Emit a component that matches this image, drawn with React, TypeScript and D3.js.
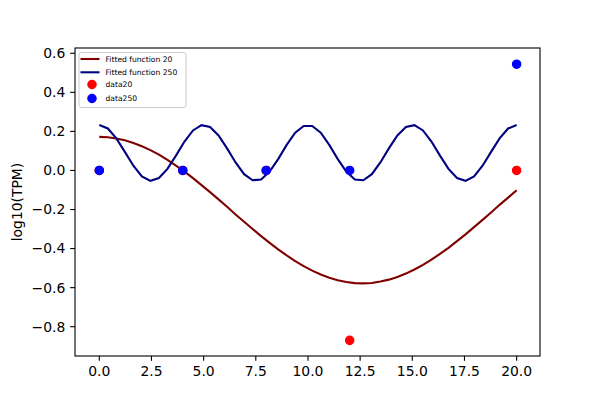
import { useEffect } from "react";
import * as d3 from "d3";

// sample positions of both fitted curves (linspace 0..20, 50 points)
const xs = d3.range(50).map((i) => (i * 20) / 49);

const fit20 = [
  0.172, 0.17, 0.164, 0.155, 0.141, 0.124, 0.104, 0.081, 0.054, 0.025,
  -0.006, -0.039, -0.075, -0.111, -0.148, -0.186, -0.225, -0.263, -0.3, -0.336,
  -0.371, -0.404, -0.435, -0.464, -0.49, -0.513, -0.533, -0.549, -0.562, -0.571,
  -0.577, -0.578, -0.576, -0.569, -0.559, -0.545, -0.528, -0.507, -0.483, -0.457,
  -0.427, -0.396, -0.362, -0.327, -0.29, -0.253, -0.215, -0.176, -0.139, -0.101,
];

const fit250 = [
  0.233, 0.215, 0.164, 0.095, 0.024, -0.03, -0.053, -0.039, 0.008, 0.076,
  0.148, 0.205, 0.232, 0.223, 0.179, 0.113, 0.041, -0.019, -0.05, -0.046,
  -0.006, 0.058, 0.131, 0.193, 0.228, 0.228, 0.193, 0.131, 0.058, -0.006,
  -0.046, -0.05, -0.019, 0.041, 0.113, 0.179, 0.223, 0.232, 0.205, 0.148,
  0.076, 0.008, -0.039, -0.053, -0.03, 0.024, 0.095, 0.164, 0.215, 0.233,
];

const dataX = [0, 4, 8, 12, 20];
const data20 = [0, 0, 0, -0.87, 0];
const data250 = [0, 0, 0, 0, 0.544];

const xTicks = [0, 2.5, 5, 7.5, 10, 12.5, 15, 17.5, 20];
const yTicks = [-0.8, -0.6, -0.4, -0.2, 0, 0.2, 0.4, 0.6];

const W = 600;
const H = 400;
const left = 75;
const right = 540;
const top = 48;
const bottom = 356;

const fmt = (v: number) => d3.format(".1f")(v).replace("-", "\u2212");

export default function App() {
  useEffect(() => {
    document.body.style.margin = "0";
  }, []);

  const x = d3.scaleLinear().domain([-1.165, 21.12]).range([left, right]);
  const y = d3.scaleLinear().domain([-0.95, 0.627]).range([bottom, top]);

  const line = d3
    .line<number>()
    .x((_, i) => x(xs[i]))
    .y((d) => y(d));

  const font = "DejaVu Sans, sans-serif";

  return (
    <svg width={W} height={H} style={{ display: "block" }} fontFamily={font}>
      <rect width={W} height={H} fill="white" />

      <path d={line(fit20) ?? ""} fill="none" stroke="#800000" strokeWidth={2.08} />
      <path d={line(fit250) ?? ""} fill="none" stroke="#000080" strokeWidth={2.08} />

      {dataX.map((d, i) => (
        <circle key={"r" + i} cx={x(d)} cy={y(data20[i])} r={4.17} fill="#ff0000" stroke="#ff0000" strokeWidth={1.2} />
      ))}
      {dataX.map((d, i) => (
        <circle key={"b" + i} cx={x(d)} cy={y(data250[i])} r={4.17} fill="#0000ff" stroke="#0000ff" strokeWidth={1.2} />
      ))}

      <rect x={left} y={top} width={right - left} height={bottom - top} fill="none" stroke="black" strokeWidth={1.1} />

      {xTicks.map((t) => (
        <g key={"x" + t} transform={`translate(${x(t)},${bottom})`}>
          <line y2={4.86} stroke="black" strokeWidth={1.1} />
          <text y={20} textAnchor="middle" fontSize={13.9} dominantBaseline="auto">
            {fmt(t)}
          </text>
        </g>
      ))}
      {yTicks.map((t) => (
        <g key={"y" + t} transform={`translate(${left},${y(t)})`}>
          <line x2={-4.86} stroke="black" strokeWidth={1.1} />
          <text x={-9.7} dy="0.35em" textAnchor="end" fontSize={13.9}>
            {fmt(t)}
          </text>
        </g>
      ))}

      <text transform={`translate(22,${(top + bottom) / 2}) rotate(-90)`} textAnchor="middle" fontSize={13.9}>
        log10(TPM)
      </text>

      <g transform="translate(79,52.5)">
        <rect width={107} height={55} rx={2.5} fill="white" fillOpacity={0.8} stroke="#cccccc" strokeWidth={1} />
        <line x1={1.5} x2={20.5} y1={6.5} y2={6.5} stroke="#800000" strokeWidth={2.08} />
        <line x1={1.5} x2={20.5} y1={19.8} y2={19.8} stroke="#000080" strokeWidth={2.08} />
        <circle cx={13} cy={32} r={4.17} fill="#ff0000" stroke="#ff0000" strokeWidth={1.2} />
        <circle cx={13} cy={46} r={4.17} fill="#0000ff" stroke="#0000ff" strokeWidth={1.2} />
        <text x={26.5} y={6.5} dy="0.35em" fontSize={7.6}>Fitted function 20</text>
        <text x={26.5} y={19.8} dy="0.35em" fontSize={7.6}>Fitted function 250</text>
        <text x={26.5} y={32} dy="0.35em" fontSize={7.6}>data20</text>
        <text x={26.5} y={46} dy="0.35em" fontSize={7.6}>data250</text>
      </g>
    </svg>
  );
}
